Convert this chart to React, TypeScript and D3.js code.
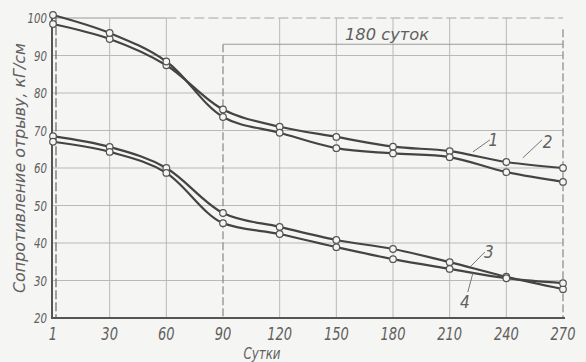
import React from "react";
import * as d3 from "d3";

// Days of exposure (equally spaced categories on the horizontal axis)
const days = ["1", "30", "60", "90", "120", "150", "180", "210", "240", "270"];
const yTicks = [20, 30, 40, 50, 60, 70, 80, 90, 100];

// Tensile bond strength, kG/cm², for the four specimens
const curve1 = [98.4, 94.4, 87.4, 75.6, 71.0, 68.3, 65.7, 64.5, 61.6, 60.0];
const curve2 = [100.8, 96.0, 88.4, 73.6, 69.4, 65.3, 63.9, 62.9, 58.9, 56.3];
const curve3 = [68.5, 65.6, 60.0, 48.0, 44.3, 40.8, 38.4, 34.9, 31.0, 27.7];
const curve4 = [67.0, 64.3, 58.7, 45.3, 42.4, 38.9, 35.7, 33.1, 30.6, 29.3];

const seriesNames = ["1", "2", "3", "4"];

// Callout labels: leader from (i0, v0) to (i1, v1), number at (ti, tv)
const callouts = [
  { name: "1", i0: 7.41, v0: 64.3, i1: 7.71, v1: 67.5, ti: 7.77, tv: 65.9 },
  { name: "2", i0: 8.29, v0: 62.7, i1: 8.63, v1: 67.5, ti: 8.73, tv: 65.3 },
  { name: "3", i0: 7.36, v0: 33.6, i1: 7.62, v1: 37.6, ti: 7.69, tv: 36.0 },
  { name: "4", i0: 7.41, v0: 32.0, i1: 7.32, v1: 26.9, ti: 7.27, tv: 22.7 },
];

const W = 586;
const H = 362;
const FONT = "'DejaVu Sans Condensed', 'DejaVu Sans', sans-serif";
const INK = "#444";
const TXT = "#606060";
const BG = "#f5f5f3";

export default function App() {
  const x = d3.scaleLinear().domain([0, days.length - 1]).range([53, 563]);
  const y = d3.scaleLinear().domain([20, 100]).range([318, 18]);

  // upper pair bends smoothly; lower pair breaks sharply at 90 days
  const smooth = d3
    .line<number>()
    .x((_, i) => x(i))
    .y((d) => y(d))
    .curve(d3.curveCatmullRom.alpha(0.5));
  const monotone = d3
    .line<number>()
    .x((_, i) => x(i))
    .y((d) => y(d))
    .curve(d3.curveMonotoneX);

  const all = [curve1, curve2, curve3, curve4];
  const gens = [smooth, smooth, monotone, monotone];

  return (
    <svg
      width={W}
      height={H}
      style={{ position: "absolute", left: 0, top: 0, background: BG }}
      fontFamily={FONT}
      fontStyle="italic"
    >
      <rect x={0} y={0} width={W} height={H} fill={BG} />

      {/* horizontal grid */}
      {yTicks.slice(1, -1).map((t) => (
        <line key={"h" + t} x1={x(0)} x2={x(9)} y1={y(t)} y2={y(t)} stroke="#b9b9b9" strokeWidth={1} />
      ))}
      <line x1={x(0)} x2={x(2)} y1={y(100)} y2={y(100)} stroke="#9a9a9a" strokeWidth={1} />
      <line x1={x(2)} x2={x(9)} y1={y(100)} y2={y(100)} stroke="#a5a5a5" strokeWidth={1} strokeDasharray="10,4" />

      {/* vertical grid */}
      {days.map((d, i) =>
        i === 0 || i === 3 || i === 9 ? null : (
          <line key={"v" + d} x1={x(i)} x2={x(i)} y1={y(100)} y2={y(20)} stroke="#b9b9b9" strokeWidth={1} />
        )
      )}
      <line x1={x(3)} x2={x(3)} y1={y(93)} y2={y(20)} stroke="#888" strokeWidth={1.2} strokeDasharray="8,3" />
      <line x1={x(9)} x2={x(9)} y1={y(97)} y2={y(20)} stroke="#888" strokeWidth={1.2} strokeDasharray="8,3" />

      {/* 180-day bracket */}
      <line x1={x(3)} x2={x(9)} y1={y(93)} y2={y(93)} stroke="#999" strokeWidth={1} />
      <text
        x={(x(5) + x(7)) / 2 - 6}
        y={y(93) - 4}
        fontSize={15}
        fill={TXT}
        textAnchor="middle"
        textLength={84}
        lengthAdjust="spacingAndGlyphs"
      >
        180 суток
      </text>

      {/* axes */}
      <line x1={52} x2={52} y1={y(101)} y2={y(20) + 1} stroke="#555" strokeWidth={2} />
      <line x1={56} x2={56} y1={y(101)} y2={y(20)} stroke="#666" strokeWidth={1.2} strokeDasharray="9,3" />
      <line x1={51} x2={565} y1={y(20)} y2={y(20)} stroke="#555" strokeWidth={2} />

      {/* curves */}
      {all.map((s, k) => (
        <path key={"c" + seriesNames[k]} d={gens[k](s) || ""} fill="none" stroke={INK} strokeWidth={2.2} />
      ))}
      {all.map((s, k) =>
        s.map((v, i) => (
          <circle
            key={"p" + k + "-" + i}
            cx={x(i)}
            cy={y(v)}
            r={3.3}
            fill={BG}
            stroke="#555"
            strokeWidth={1.2}
          />
        ))
      )}

      {/* callouts */}
      {callouts.map((c) => (
        <g key={"l" + c.name}>
          <line x1={x(c.i0)} y1={y(c.v0)} x2={x(c.i1)} y2={y(c.v1)} stroke="#777" strokeWidth={1} />
          <text x={x(c.ti)} y={y(c.tv)} fontSize={17} fill={TXT} textAnchor="middle">
            {c.name}
          </text>
        </g>
      ))}

      {/* y tick labels */}
      {yTicks.map((t) => (
        <text
          key={"yt" + t}
          x={47}
          y={y(t) + 5}
          fontSize={14}
          fill={TXT}
          textAnchor="end"
          textLength={String(t).length * 6.5}
          lengthAdjust="spacingAndGlyphs"
        >
          {t}
        </text>
      ))}

      {/* x tick labels */}
      {days.map((d, i) => (
        <text
          key={"xt" + d}
          x={x(i)}
          y={340}
          fontSize={18}
          fill={TXT}
          textAnchor="middle"
          textLength={d.length * 8.3}
          lengthAdjust="spacingAndGlyphs"
        >
          {d}
        </text>
      ))}

      {/* axis titles */}
      <text
        x={262}
        y={359}
        fontSize={16}
        fill={TXT}
        textAnchor="middle"
        textLength={37}
        lengthAdjust="spacingAndGlyphs"
      >
        Сутки
      </text>
      <text
        transform={`translate(25, 168) rotate(-90)`}
        fontSize={15}
        fill={TXT}
        textAnchor="middle"
        textLength={250}
        lengthAdjust="spacingAndGlyphs"
      >
        Сопротивление отрыву, кГ/см
      </text>
    </svg>
  );
}
